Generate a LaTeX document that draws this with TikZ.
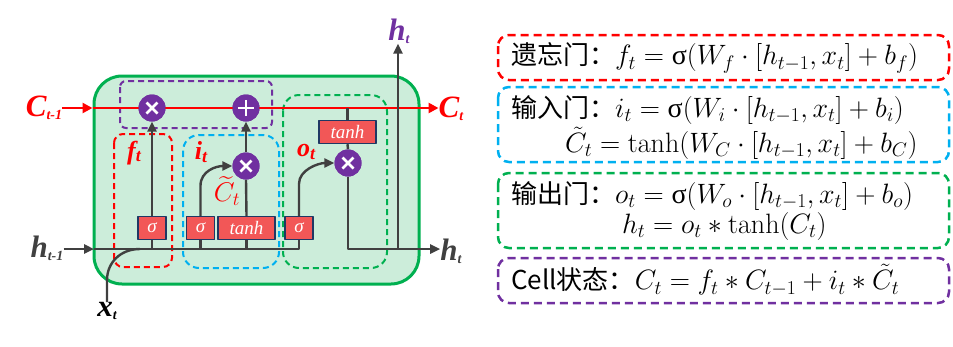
\RequirePackage{fix-cm}
\documentclass[tikz,border=0pt]{standalone}
\usepackage{amsmath}
\usepackage{fontspec}
\usetikzlibrary{arrows.meta}
\newfontfamily\cjk{Noto Sans CJK SC}
\newfontfamily\serif{Liberation Serif}
\definecolor{cellgreen}{HTML}{00B050}
\definecolor{cellfill}{HTML}{CCEDDA}
\definecolor{gatered}{HTML}{FF0000}
\definecolor{gateblue}{HTML}{00B0F0}
\definecolor{gatepurple}{HTML}{7030A0}
\definecolor{flowgray}{HTML}{404040}
\definecolor{boxred}{HTML}{F25757}
\definecolor{boxnavy}{HTML}{1F3864}
\newcommand\lblsub[3]{#1\raisebox{-0.1em}{\fontsize{#3}{#3}\selectfont #2}}
\newcommand\usig{\text{\serif σ}}
\newcommand\gatename[1]{{\cjk\fontsize{26}{30}\selectfont #1}}
\tikzset{
  every picture/.style={
    line join=round,
    >={Triangle[length=10pt,width=9pt]},   % same tip on every connector
  },
  flowline/.style={draw=flowgray, line width=2.4pt},
  cellline/.style={draw=gatered, line width=2.6pt},
  fence/.style={dashed, dash pattern=on 6pt off 4pt, line width=2pt},
  eqfence/.style={dashed, dash pattern=on 8pt off 5pt, line width=2.5pt, rounded corners=11pt},
  gatebox/.style={draw=boxnavy, fill=boxred, line width=1.4pt, text=white,
    font=\serif\itshape\fontsize{19}{19}\selectfont, minimum height=23pt,
    minimum width=28pt, inner sep=0pt},
  mulop/.style={circle, fill=gatepurple, minimum size=27pt, inner sep=0pt,
    path picture={
      \draw[white, line width=2.8pt]
        ([shift={(-5.5pt,-5.5pt)}]path picture bounding box.center) -- ([shift={(5.5pt,5.5pt)}]path picture bounding box.center)
        ([shift={(-5.5pt,5.5pt)}]path picture bounding box.center) -- ([shift={(5.5pt,-5.5pt)}]path picture bounding box.center);
    }},
  addop/.style={circle, fill=gatepurple, minimum size=27pt, inner sep=0pt,
    path picture={
      \draw[white, line width=2.4pt]
        ([shift={(-8pt,0pt)}]path picture bounding box.center) -- ([shift={(8pt,0pt)}]path picture bounding box.center)
        ([shift={(0pt,-8pt)}]path picture bounding box.center) -- ([shift={(0pt,8pt)}]path picture bounding box.center);
    }},
  lbl/.style={font=\serif\bfseries\itshape\fontsize{31}{31}\selectfont, inner sep=0pt},
  gatelbl/.style={font=\serif\bfseries\itshape\fontsize{26}{26}\selectfont, text=gatered, inner sep=0pt},
  eq/.style={anchor=west, inner sep=0pt, font=\fontsize{28}{30}\selectfont},
}
\begin{document}
\begin{tikzpicture}[x=1pt, y=-1pt]
    \useasboundingbox (0,0) rectangle (953,346);

    % Cell
    \node[draw=cellgreen, fill=cellfill, line width=3pt, rounded corners=28pt,
      minimum width=325pt, minimum height=208pt] (cell) at (256.5,180) {};

    % Gate fences
    \draw[fence, gatepurple, rounded corners=6pt] (120,81) rectangle (272,128);
    \draw[fence, gatered, rounded corners=9pt] (114,134) rectangle (172,267);
    \draw[fence, gateblue, rounded corners=16pt] (183,135) rectangle (279,268);
    \draw[fence, cellgreen, rounded corners=16pt] (283,95) rectangle (387,268);

    % Outside labels
    \node[lbl, text=gatered] (cprev) at (44,108) {\lblsub{C}{t-1}{14}};
    \node[lbl, text=gatered] (cnext) at (451,109) {\lblsub{C}{t}{14}};
    \node[lbl, text=flowgray] (hprev) at (47,248) {\lblsub{h}{t-1}{14}};
    \node[lbl, text=flowgray] (hnext) at (451,251) {\lblsub{h}{t}{14}};
    \node[lbl, text=gatepurple] (htop) at (399,31) {\lblsub{h}{t}{14}};
    \node[lbl] (xt) at (107,311) {\lblsub{x}{t}{14}};

    % Ops and layers
    \node[mulop] (fm) at (152,108) {};
    \node[addop] (pm) at (246,108) {};
    \node[mulop] (im) at (246,166) {};
    \node[mulop] (om) at (348,163) {};
    \node[gatebox] (sf) at (152,228) {σ};
    \node[gatebox] (si) at (200.5,228) {σ};
    \node[gatebox, minimum width=57pt] (tc) at (246.5,228) {tanh};
    \node[gatebox] (so) at (299,228) {σ};
    \node[gatebox, minimum width=57pt] (th) at (347.5,132) {tanh};

    \coordinate (cin) at (cell.west |- fm);
    \coordinate (hin) at (94,249);
    \coordinate (xjoin) at (140,249);
    \coordinate (hup) at (398,249);

    % Cell state line
    \draw[cellline, ->, >={Triangle[length=10pt,width=10pt]}, gatered] (cprev.east |- cin) -- (cin);
    \draw[cellline, ->, >={Triangle[length=10pt,width=10pt]}, gatered] (cin) -- (cnext.west |- cin);

    % Hidden state and input
    \draw[flowline, ->] (hprev.east |- hin) -- (hin);
    \draw[flowline] (hin) -| (so.south);
    \draw[flowline] (xt.north) -- ++(0,-22) .. controls +(0,-17) and +(-20,0) .. (xjoin);
    \foreach \g in {sf,si,tc}
        \draw[flowline] (\g.south) -- (\g |- hin);

    % Forget and input gates
    \draw[flowline, ->] (sf.north) -- (fm.south);
    \draw[flowline, ->] (si.north) -- ++(0,-30) .. controls +(0,-15) and +(-16,0) .. (im.west);
    \draw[flowline] (tc.north) -- (im.south);
    \draw[flowline, ->] (im.north) -- (pm.south);

    % Output gate
    \draw[flowline, ->] (so.north) -- ++(0,-32) .. controls +(0,-14) and +(-16,0) .. (om.west);
    \draw[flowline] (th.north) -- (th |- cin);
    \draw[flowline] (th.south) -- (om.north);
    \draw[flowline, ->] (om.south) |- (hnext.west |- hin);
    \draw[flowline, ->] (hup) -- (hup |- htop.south);

    % redraw ops on top of the lines
    \node[mulop] at (fm) {};
    \node[addop] at (pm) {};
    \node[mulop] at (im) {};
    \node[mulop] at (om) {};

    % Gate labels
    \node[gatelbl] (flab) at (134,153) {\lblsub{f}{t}{18}};
    \node[gatelbl] (ilab) at (201,152) {\lblsub{i}{t}{18}};
    \node[gatelbl] (olab) at (306,152) {\lblsub{o}{t}{18}};
    \node[text=gatered, inner sep=0pt, font=\fontsize{27}{27}\selectfont] (clab) at (227,191) {$\widetilde{C}_t$};

    % Equations
    \draw[eqfence, gatered] (498,35) rectangle (949,80);
    \draw[eqfence, gateblue] (498,87) rectangle (949,162);
    \draw[eqfence, cellgreen] (498,173) rectangle (949,248);
    \draw[eqfence, gatepurple] (498,258) rectangle (949,303);

    \node[eq] (eqf) at (511,58) {\gatename{遗忘门：}$f_t=\usig(W_f\cdot[h_{t-1},x_t]+b_f)$};
    \node[eq] (eqi) at (511,110) {\gatename{输入门：}$i_t=\usig(W_i\cdot[h_{t-1},x_t]+b_i)$};
    \node[eq] (eqc) at (565,143) {$\tilde{C}_t=\tanh(W_C\cdot[h_{t-1},x_t]+b_C)$};
    \node[eq] (eqo) at (511,196) {\gatename{输出门：}$o_t=\usig(W_o\cdot[h_{t-1},x_t]+b_o)$};
    \node[eq] (eqh) at (622,226) {$h_t=o_t*\tanh(C_t)$};
    \node[eq] (eqs) at (511,280) {\gatename{Cell状态：}$C_t=f_t*C_{t-1}+i_t*\tilde{C}_t$};
\end{tikzpicture}
\end{document}
